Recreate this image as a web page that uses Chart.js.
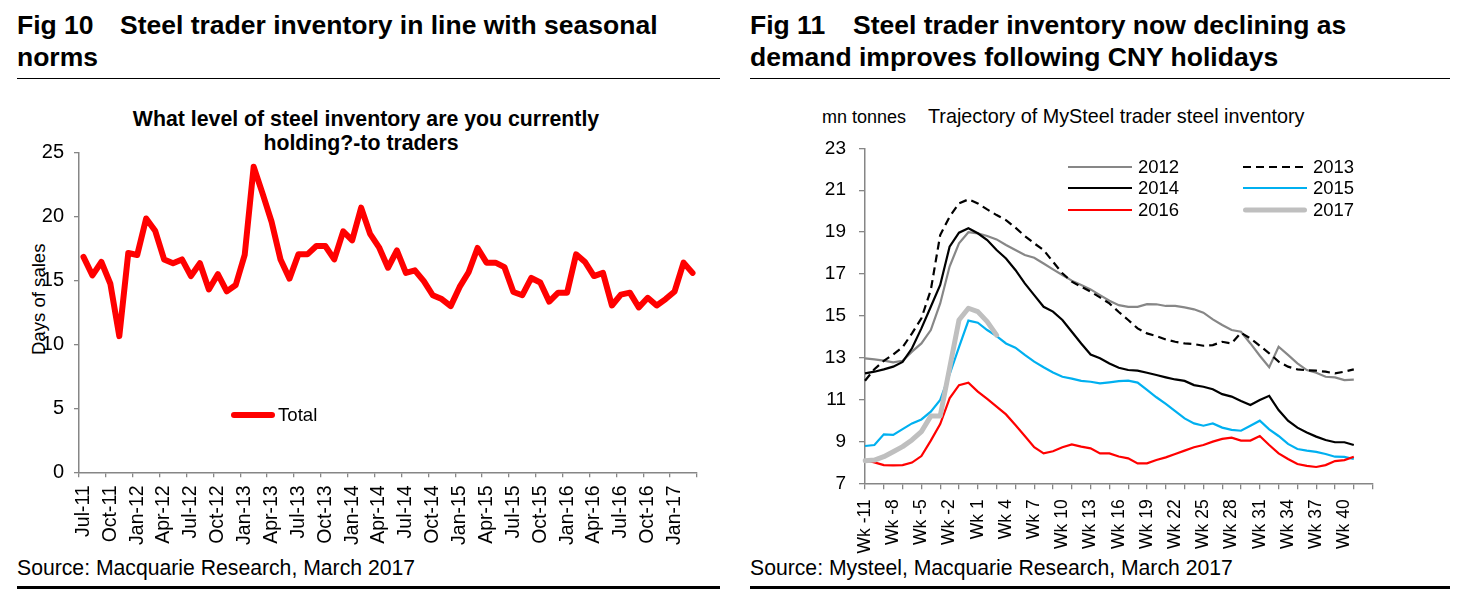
<!DOCTYPE html>
<html lang="en">
<head>
<meta charset="UTF-8">
<title>Steel trader inventory</title>
<script src="https://cdn.jsdelivr.net/npm/chart.js"></script>
<style>
    html, body { margin: 0; padding: 0; background: #fff; }
    body {
        width: 1458px; height: 607px; position: relative; overflow: hidden;
        font-family: "Liberation Sans", Arial, sans-serif; color: #000;
    }
    .t { position: absolute; white-space: nowrap; line-height: 1; }
    .head { font-weight: bold; font-size: 26.5px; }
    .fig { display: inline-block; width: 103px; }
    .src { font-size: 21.2px; }
    .rule { position: absolute; background: #000; }
    canvas { position: absolute; top: 0; }
    .leg { position: absolute; }
</style>
</head>
<body>
    <!-- Fig 10 frame -->
    <div class="t head" style="left:17px; top:11.6px"><span class="fig">Fig 10</span>Steel trader inventory in line with seasonal</div>
    <div class="t head" style="left:17px; top:43.6px">norms</div>
    <div class="rule" style="left:17px; top:77.5px; width:703px; height:1.3px"></div>
    <div class="t" style="left:66px; top:108.7px; width:600px; text-align:center; font-weight:bold; font-size:21.3px">What level of steel inventory are you currently</div>
    <div class="t" style="left:61px; top:132.7px; width:600px; text-align:center; font-weight:bold; font-size:21.3px">holding?-to traders</div>
    <div class="t" style="left:-61.4px; top:289.7px; width:200px; text-align:center; font-size:18.6px; transform:rotate(-90deg)">Days of sales</div>
    <div class="t src" style="left:17px; top:557px">Source: Macquarie Research, March 2017</div>
    <div class="rule" style="left:17px; top:586px; width:703px; height:2.6px"></div>

    <!-- Fig 11 frame -->
    <div class="t head" style="left:750px; top:11.6px"><span class="fig">Fig 11</span>Steel trader inventory now declining as</div>
    <div class="t head" style="left:750px; top:43.6px">demand improves following CNY holidays</div>
    <div class="rule" style="left:750px; top:77.5px; width:700px; height:1.3px"></div>
    <div class="t" style="left:822px; top:108.1px; font-size:18px">mn tonnes</div>
    <div class="t" style="left:928px; top:106.5px; font-size:19.8px">Trajectory of MySteel trader steel inventory</div>
    <div class="t src" style="left:750px; top:557px">Source: Mysteel, Macquarie Research, March 2017</div>
    <div class="rule" style="left:750px; top:586px; width:700px; height:2.6px"></div>

    <canvas id="daysChart" width="730" height="607" style="left:0"></canvas>
    <canvas id="invChart" width="718" height="607" style="left:740px"></canvas>

    <script>
        // Fig 10 - survey, days of sales held by traders (monthly)
        const months = [
            'Jul-11','Aug-11','Sep-11','Oct-11','Nov-11','Dec-11',
            'Jan-12','Feb-12','Mar-12','Apr-12','May-12','Jun-12','Jul-12','Aug-12','Sep-12','Oct-12','Nov-12','Dec-12',
            'Jan-13','Feb-13','Mar-13','Apr-13','May-13','Jun-13','Jul-13','Aug-13','Sep-13','Oct-13','Nov-13','Dec-13',
            'Jan-14','Feb-14','Mar-14','Apr-14','May-14','Jun-14','Jul-14','Aug-14','Sep-14','Oct-14','Nov-14','Dec-14',
            'Jan-15','Feb-15','Mar-15','Apr-15','May-15','Jun-15','Jul-15','Aug-15','Sep-15','Oct-15','Nov-15','Dec-15',
            'Jan-16','Feb-16','Mar-16','Apr-16','May-16','Jun-16','Jul-16','Aug-16','Sep-16','Oct-16','Nov-16','Dec-16',
            'Jan-17','Feb-17','Mar-17'
        ];
        const totalDays = [
            16.85, 15.4, 16.45, 14.75, 10.65, 17.15,
            17.0, 19.85, 18.9, 16.65, 16.35, 16.65, 15.35, 16.35, 14.3, 15.5, 14.15, 14.65,
            17.0, 23.9, 21.8, 19.6, 16.65, 15.15, 17.05, 17.05, 17.7, 17.7, 16.65, 18.85,
            18.15, 20.7, 18.65, 17.6, 16.0, 17.35, 15.6, 15.8, 14.95, 13.85, 13.55, 13.0,
            14.5, 15.65, 17.55, 16.4, 16.4, 16.05, 14.1, 13.85, 15.2, 14.85, 13.35, 14.05,
            14.05, 17.05, 16.45, 15.35, 15.6, 13.05, 13.9, 14.05, 12.9, 13.65, 13.05, 13.55,
            14.15, 16.4, 15.6
        ];
        const daysTicks = [0, 5, 10, 15, 20, 25];

        // Fig 11 - MySteel trader inventory by week around CNY (mn tonnes)
        const weeks = [
            'Wk -11','Wk -10','Wk -9','Wk -8','Wk -7','Wk -6','Wk -5','Wk -4','Wk -3','Wk -2','Wk -1',
            'Wk 0','Wk 1','Wk 2','Wk 3','Wk 4','Wk 5','Wk 6','Wk 7','Wk 8','Wk 9','Wk 10',
            'Wk 11','Wk 12','Wk 13','Wk 14','Wk 15','Wk 16','Wk 17','Wk 18','Wk 19','Wk 20',
            'Wk 21','Wk 22','Wk 23','Wk 24','Wk 25','Wk 26','Wk 27','Wk 28','Wk 29','Wk 30',
            'Wk 31','Wk 32','Wk 33','Wk 34','Wk 35','Wk 36','Wk 37','Wk 38','Wk 39','Wk 40',
            'Wk 41','Wk 42','Wk 43'
        ];
        const inv2012 = [
            12.97, 12.92, 12.86, 12.78, 12.85, 13.29, 13.68, 14.32, 15.59, 17.35,
            18.46, 18.99, 18.94, 18.81, 18.65, 18.38, 18.14, 17.90, 17.77, 17.50,
            17.22, 16.95, 16.68, 16.47, 16.26, 15.99, 15.72, 15.51, 15.43, 15.43,
            15.56, 15.55, 15.47, 15.47, 15.40, 15.31, 15.15, 14.83, 14.56, 14.32,
            14.24, 13.68, 13.09, 12.54, 13.52, 13.13, 12.73, 12.41, 12.28, 12.09,
            12.06, 11.93, 11.95
        ];
        const inv2013 = [
            11.90, 12.45, 12.85, 13.15, 13.50, 14.16, 14.88, 16.23, 18.86, 19.73,
            20.37, 20.56, 20.37, 20.08, 19.81, 19.57, 19.21, 18.81, 18.46, 18.14,
            17.58, 17.03, 16.63, 16.39, 16.15, 15.88, 15.59, 15.18, 14.80, 14.40,
            14.16, 14.03, 13.87, 13.76, 13.68, 13.65, 13.57, 13.60, 13.76, 13.68,
            14.19, 13.92, 13.57, 13.21, 12.81, 12.57, 12.44, 12.40, 12.38, 12.33,
            12.25, 12.33, 12.44
        ];
        const inv2014 = [
            12.25, 12.33, 12.44, 12.57, 12.80, 13.45, 14.40, 15.43, 16.47, 18.30,
            18.97, 19.18, 18.94, 18.62, 18.14, 17.74, 17.19, 16.55, 15.99, 15.43,
            15.20, 14.80, 14.24, 13.68, 13.15, 12.97, 12.72, 12.52, 12.41, 12.38,
            12.28, 12.17, 12.06, 11.96, 11.89, 11.69, 11.61, 11.49, 11.26, 11.14,
            10.93, 10.74, 10.98, 11.18, 10.50, 9.99, 9.66, 9.43, 9.23, 9.07,
            8.96, 8.96, 8.83
        ];
        const inv2015 = [
            8.78, 8.83, 9.34, 9.31, 9.59, 9.86, 10.05, 10.42, 10.98, 12.20,
            13.50, 14.77, 14.67, 14.32, 14.03, 13.68, 13.48, 13.13, 12.81, 12.54,
            12.29, 12.09, 12.00, 11.89, 11.85, 11.77, 11.82, 11.88, 11.90, 11.81,
            11.46, 11.11, 10.79, 10.45, 10.10, 9.86, 9.75, 9.86, 9.66, 9.55,
            9.51, 9.75, 9.99, 9.58, 9.26, 8.88, 8.64, 8.56, 8.50, 8.40,
            8.27, 8.26, 8.16
        ];
        const inv2016 = [
            8.11, 8.00, 7.87, 7.86, 7.87, 7.99, 8.30, 9.04, 9.83, 11.06,
            11.69, 11.80, 11.38, 11.03, 10.66, 10.29, 9.78, 9.26, 8.72, 8.43,
            8.53, 8.72, 8.86, 8.75, 8.67, 8.43, 8.43, 8.28, 8.19, 7.95,
            7.95, 8.11, 8.24, 8.40, 8.56, 8.72, 8.83, 8.99, 9.12, 9.18,
            9.04, 9.04, 9.26, 8.83, 8.43, 8.16, 7.92, 7.83, 7.78, 7.87,
            8.06, 8.11, 8.27
        ];
        const inv2017 = [
            8.08, 8.11, 8.27, 8.51, 8.75, 9.07, 9.47, 10.21, 10.21, 12.50,
            14.80, 15.36, 15.20, 14.72, 14.08
        ];
        const invTicks = [7, 9, 11, 13, 15, 17, 19, 21, 23];

        Chart.defaults.font.family = '"Liberation Sans", Arial, sans-serif';
        Chart.defaults.color = '#000';
        const AXIS = '#868686';
        const NONE = 'rgba(0,0,0,0)';

        // ---- Fig 10 ----
        const daysChart = new Chart(document.getElementById('daysChart'), {
            type: 'line',
            data: {
                labels: months,
                datasets: [{
                    label: 'Total',
                    data: totalDays,
                    borderColor: '#FF0000',
                    borderWidth: 6,
                    borderJoinStyle: 'round',
                    borderCapStyle: 'round',
                    pointRadius: 0,
                    tension: 0
                }]
            },
            options: {
                responsive: false,
                animation: false,
                layout: { padding: { left: 0, top: 152.7, right: 33, bottom: 44.7 } },
                plugins: { legend: { display: false }, tooltip: { enabled: false } },
                scales: {
                    x: {
                        offset: true,
                        grid: {
                            offset: true,
                            drawOnChartArea: false,
                            tickLength: 5,
                            lineWidth: 1.3,
                            color: ctx => (ctx.type !== 'tick' || ctx.index % 3 === 0) ? AXIS : NONE
                        },
                        border: { color: AXIS, width: 1.5 },
                        ticks: {
                            autoSkip: false,
                            minRotation: 90,
                            maxRotation: 90,
                            padding: 8,
                            font: { size: 19.5 },
                            callback: function (v, i) { return i % 3 === 0 ? this.getLabelForValue(v) : ''; }
                        },
                        afterFit: s => { s.height = 90; }
                    },
                    y: {
                        min: daysTicks[0],
                        max: daysTicks[daysTicks.length - 1],
                        afterBuildTicks: s => { s.ticks = daysTicks.map(v => ({ value: v })); },
                        grid: { drawOnChartArea: false, tickLength: 5, lineWidth: 1.3, color: AXIS },
                        border: { color: AXIS, width: 1.5 },
                        ticks: { padding: 10, font: { size: 20 } },
                        afterFit: s => { s.width = 79; }
                    }
                }
            }
        });

        // ---- Fig 11 ----
        const invChart = new Chart(document.getElementById('invChart'), {
            type: 'line',
            data: {
                labels: weeks,
                datasets: [
                    { label: '2012', data: inv2012, borderColor: '#878787', borderWidth: 2.2, order: 6 },
                    { label: '2013', data: inv2013, borderColor: '#000000', borderWidth: 2.2, borderDash: [8, 5], order: 5 },
                    { label: '2014', data: inv2014, borderColor: '#000000', borderWidth: 2.2, order: 4 },
                    { label: '2015', data: inv2015, borderColor: '#00B0F0', borderWidth: 2.2, order: 3 },
                    { label: '2016', data: inv2016, borderColor: '#FF0000', borderWidth: 2.2, order: 2 },
                    { label: '2017', data: inv2017, borderColor: '#BFBFBF', borderWidth: 5, borderCapStyle: 'round', borderJoinStyle: 'round', order: 1 }
                ].map(d => Object.assign({ pointRadius: 0, tension: 0 }, d))
            },
            options: {
                responsive: false,
                animation: false,
                layout: { padding: { left: 0, top: 148.3, right: 85.4, bottom: 33.7 } },
                plugins: { legend: { display: false }, tooltip: { enabled: false } },
                scales: {
                    x: {
                        grid: {
                            drawOnChartArea: false,
                            tickLength: 6,
                            lineWidth: 1.3,
                            color: ctx => (ctx.type !== 'tick' || ctx.index % 2 === 0) ? AXIS : NONE
                        },
                        border: { color: AXIS, width: 1.5 },
                        ticks: {
                            autoSkip: false,
                            minRotation: 90,
                            maxRotation: 90,
                            padding: 10,
                            font: { size: 17.5 },
                            callback: function (v, i) {
                                return (i % 3 === 0 && i < weeks.length - 1) ? this.getLabelForValue(v) : '';
                            }
                        },
                        afterFit: s => { s.height = 90; }
                    },
                    y: {
                        min: invTicks[0],
                        max: invTicks[invTicks.length - 1],
                        afterBuildTicks: s => { s.ticks = invTicks.map(v => ({ value: v })); },
                        grid: { drawOnChartArea: false, tickLength: 6, lineWidth: 1.3, color: AXIS },
                        border: { color: AXIS, width: 1.5 },
                        ticks: { padding: 13, font: { size: 19 } },
                        afterFit: s => { s.width = 125; }
                    }
                }
            }
        });

        // HTML legends, styled from the datasets themselves
        const SVG_NS = 'http://www.w3.org/2000/svg';
        function legendItem(ds, x, y, w, textGap, fontSize) {
            const svg = document.createElementNS(SVG_NS, 'svg');
            svg.setAttribute('width', w);
            svg.setAttribute('height', 16);
            svg.setAttribute('class', 'leg');
            svg.style.left = x + 'px';
            svg.style.top = (y - 8) + 'px';
            const cap = ds.borderCapStyle || 'butt';
            const inset = cap === 'round' ? ds.borderWidth / 2 : 0;
            const ln = document.createElementNS(SVG_NS, 'line');
            ln.setAttribute('x1', inset);
            ln.setAttribute('x2', w - inset);
            ln.setAttribute('y1', 8);
            ln.setAttribute('y2', 8);
            ln.setAttribute('stroke', ds.borderColor);
            ln.setAttribute('stroke-width', ds.borderWidth);
            ln.setAttribute('stroke-linecap', cap);
            if (ds.borderDash) ln.setAttribute('stroke-dasharray', ds.borderDash.join(' '));
            svg.appendChild(ln);
            document.body.appendChild(svg);

            const label = document.createElement('div');
            label.className = 't';
            label.style.fontSize = fontSize + 'px';
            label.style.left = (x + w + textGap) + 'px';
            label.style.top = (y + 0.358 * fontSize - 0.8465 * fontSize) + 'px';
            label.textContent = ds.label;
            document.body.appendChild(label);
        }

        daysChart.data.datasets.forEach(ds => legendItem(ds, 231, 415.3, 44, 3, 18.6));

        const legendCols = [1068, 1243];
        invChart.data.datasets.forEach((ds, i) => {
            legendItem(ds, legendCols[i % 2], 166.7 + Math.floor(i / 2) * 21.65, 64, 6, 18.5);
        });
    </script>
</body>
</html>
